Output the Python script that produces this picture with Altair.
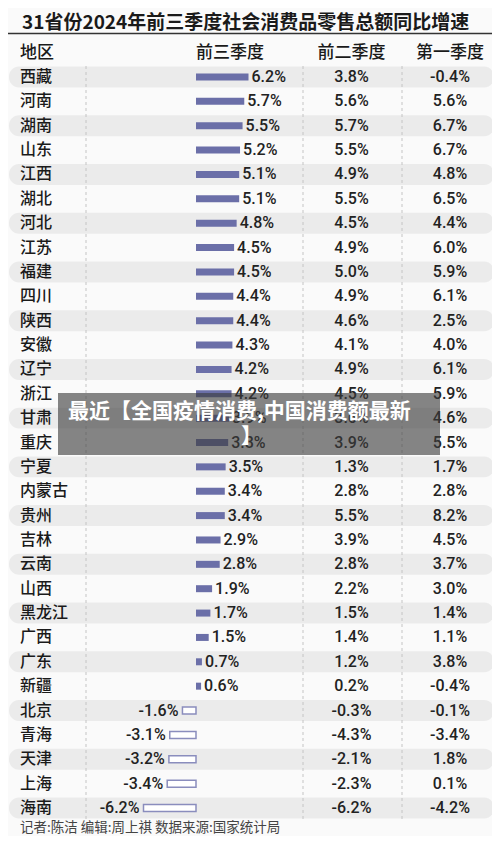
import altair as alt
import pandas as pd

provinces = ["西藏", "河南", "湖南", "山东", "江西", "湖北", "河北", "江苏", "福建", "四川",
             "陕西", "安徽", "辽宁", "浙江", "甘肃", "重庆", "宁夏", "内蒙古", "贵州", "吉林",
             "云南", "山西", "黑龙江", "广西", "广东", "新疆", "北京", "青海", "天津", "上海", "海南"]
q3 = [6.2, 5.7, 5.5, 5.2, 5.1, 5.1, 4.8, 4.5, 4.5, 4.4, 4.4, 4.3, 4.2, 4.2, 3.9, 3.8, 3.5, 3.4,
      3.4, 2.9, 2.8, 1.9, 1.7, 1.5, 0.7, 0.6, -1.6, -3.1, -3.2, -3.4, -6.2]
h1 = [3.8, 5.6, 5.7, 5.5, 4.9, 5.5, 4.5, 4.9, 5.0, 4.9, 4.6, 4.1, 4.9, 4.5, 3.6, 3.9, 1.3, 2.8,
      5.5, 3.9, 2.8, 2.2, 1.5, 1.4, 1.2, 0.2, -0.3, -4.3, -2.1, -2.3, -6.2]
q1 = [-0.4, 5.6, 6.7, 6.7, 4.8, 6.5, 4.4, 6.0, 5.9, 6.1, 2.5, 4.0, 6.1, 5.9, 4.6, 5.5, 1.7, 2.8,
      8.2, 4.5, 3.7, 3.0, 1.4, 1.1, 3.8, -0.4, -0.1, -3.4, 1.8, 0.1, -4.2]

title_text = "31省份2024年前三季度社会消费品零售总额同比增速"
headers = ["地区", "前三季度", "前二季度", "第一季度"]
footer_text = "记者:陈洁 编辑:周上祺 数据来源:国家统计局"
banner_lines = ["最近【全国疫情消费,中国消费额最新", "】"]

CJK = "Noto Sans CJK SC"
NUM = "Roboto"
BAR = "#6b6fa8"

df = pd.DataFrame({"province": provinces, "q3": q3, "h1": h1, "q1": q1})
df["row"] = list(range(len(df)))
df["zero"] = 0.0
df["q3_label"] = [f"{v:.1f}%" for v in q3]
df["h1_label"] = [f"{v:.1f}%" for v in h1]
df["q1_label"] = [f"{v:.1f}%" for v in q1]
df["y0"] = df["row"] - 0.43
df["y1"] = df["row"] + 0.43

yscale = alt.Scale(domain=[0, 30], range=[69, 800], padding=0, nice=False, zero=False)
xscale = alt.Scale(domain=[-6.2, 6.2], range=[135.5, 240.5], padding=0, nice=False)

base = alt.Chart(df)
one = pd.DataFrame({"k": [0]})

row_bg = base.transform_filter("datum.row % 2 == 0").mark_rect(
    cornerRadius=10, color="#ebebeb"
).encode(
    x=alt.value(1), x2=alt.value(486),
    y=alt.Y("y0:Q", scale=yscale, axis=None), y2="y1:Q"
)

rules = [
    alt.Chart(one).mark_rule(color="#c4c4c4", strokeDash=[3, 3], strokeWidth=1).encode(
        x=alt.value(xv), y=alt.value(58), y2=alt.value(811))
    for xv in [78, 295, 394]
]

pos_bars = base.transform_filter("datum.q3 >= 0").mark_bar(
    size=7, orient="horizontal", color=BAR
).encode(
    x=alt.X("zero:Q", scale=xscale, axis=None), x2="q3:Q",
    y=alt.Y("row:Q", scale=yscale, axis=None)
)
neg_bars = base.transform_filter("datum.q3 < 0").mark_bar(
    size=7, orient="horizontal", fill="#ffffff", stroke="#8a8dbd", strokeWidth=1.5
).encode(
    x=alt.X("q3:Q", scale=xscale, axis=None), x2="zero:Q",
    y=alt.Y("row:Q", scale=yscale, axis=None)
)

pos_lab = base.transform_filter("datum.q3 >= 0").mark_text(
    align="left", baseline="middle", dx=3, font=NUM, fontSize=16, fontWeight=500,
    color="#222222"
).encode(
    x=alt.X("q3:Q", scale=xscale, axis=None),
    y=alt.Y("row:Q", scale=yscale, axis=None), text="q3_label:N"
)
neg_lab = base.transform_filter("datum.q3 < 0").mark_text(
    align="right", baseline="middle", dx=-4, font=NUM, fontSize=16, fontWeight=500,
    color="#222222"
).encode(
    x=alt.X("q3:Q", scale=xscale, axis=None),
    y=alt.Y("row:Q", scale=yscale, axis=None), text="q3_label:N"
)

h1_lab = base.mark_text(align="center", baseline="middle", font=NUM, fontSize=16,
                        fontWeight=500, color="#222222").encode(
    x=alt.value(343.5), y=alt.Y("row:Q", scale=yscale, axis=None), text="h1_label:N")
q1_lab = base.mark_text(align="center", baseline="middle", font=NUM, fontSize=16,
                        fontWeight=500, color="#222222").encode(
    x=alt.value(442), y=alt.Y("row:Q", scale=yscale, axis=None), text="q1_label:N")

names = base.mark_text(align="left", baseline="middle", font=CJK, fontSize=16,
                       fontWeight=500, color="#1a1a1a").encode(
    x=alt.value(12), y=alt.Y("row:Q", scale=yscale, axis=None), text="province:N")

title = alt.Chart(one).mark_text(align="left", baseline="middle", font=CJK, fontSize=19,
                                 fontWeight="bold", color="#1a1a1a").encode(
    x=alt.value(14), y=alt.value(15), text=alt.value(title_text))
title_line = alt.Chart(one).mark_rule(color="#333333", strokeWidth=1.5).encode(
    x=alt.value(0), x2=alt.value(484), y=alt.value(25.5))

header_x = [12, 222, 343.5, 442]
header_align = ["left", "center", "center", "center"]
header_layers = [
    alt.Chart(one).mark_text(align=a, baseline="middle", font=CJK, fontSize=17,
                             fontWeight=500, color="#1a1a1a").encode(
        x=alt.value(hx), y=alt.value(45), text=alt.value(h))
    for h, hx, a in zip(headers, header_x, header_align)
]

footer = alt.Chart(one).mark_text(align="left", baseline="middle", font=CJK, fontSize=13.5,
                                  color="#444444").encode(
    x=alt.value(12), y=alt.value(819.5), text=alt.value(footer_text))

banner = alt.Chart(one).mark_rect(color="#3c3c3c", opacity=0.62).encode(
    x=alt.value(50), x2=alt.value(432), y=alt.value(385), y2=alt.value(447))
banner_t1 = alt.Chart(one).mark_text(align="left", baseline="middle", font=CJK, fontSize=21,
                                     fontWeight="bold", color="#ffffff").encode(
    x=alt.value(60), y=alt.value(404), text=alt.value(banner_lines[0]))
banner_t2 = alt.Chart(one).mark_text(align="left", baseline="middle", font=CJK, fontSize=21,
                                     fontWeight="bold", color="#ffffff").encode(
    x=alt.value(233), y=alt.value(429), text=alt.value(banner_lines[1]))

chart = alt.layer(
    row_bg, *rules, pos_bars, neg_bars, pos_lab, neg_lab, h1_lab, q1_lab, names,
    title, title_line, *header_layers, footer, banner, banner_t1, banner_t2
).properties(
    width=484, height=828, background="#fafafa",
    autosize=alt.AutoSizeParams(type="none"), padding=0
).configure_view(stroke=None)

chart.save("out.html", embed_options={"renderer": "svg", "actions": False})
